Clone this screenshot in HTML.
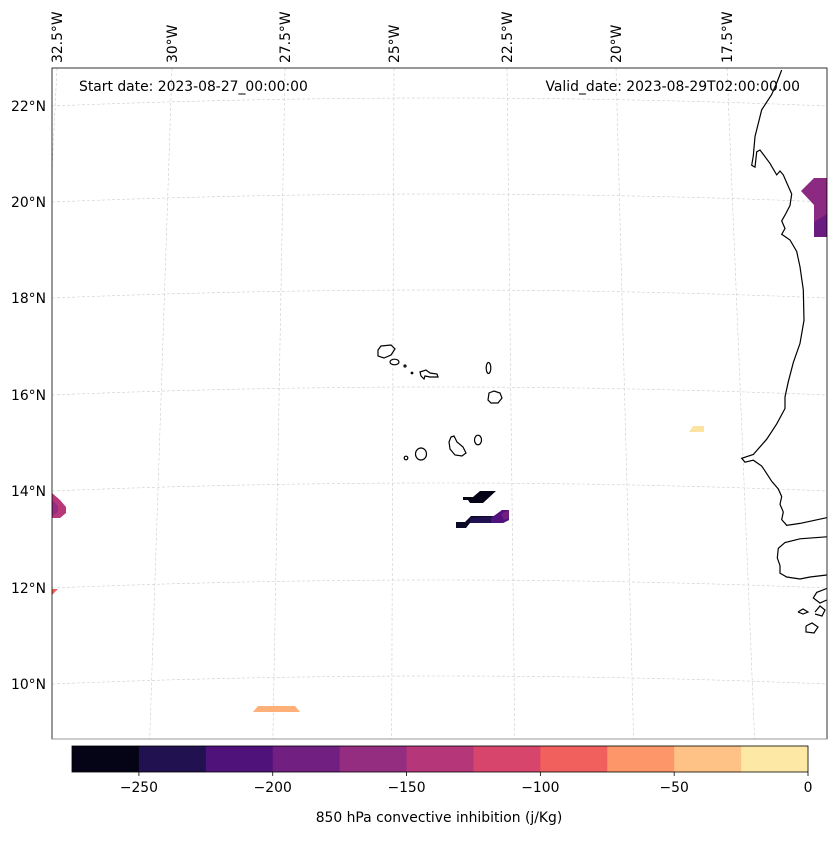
<!DOCTYPE html>
<html><head><meta charset="utf-8">
<style>
body{margin:0;background:#fff;font-family:"Liberation Sans","DejaVu Sans",sans-serif;}
svg text{font-family:"DejaVu Sans","Liberation Sans",sans-serif;font-size:13.9px;fill:#000;}
</style></head>
<body>
<svg id="chart" width="837" height="836" viewBox="0 0 837 836" xmlns="http://www.w3.org/2000/svg">
<defs><clipPath id="mapclip"><rect x="52" y="68" width="775" height="671"/></clipPath></defs>
<rect x="0" y="0" width="837" height="836" fill="#fff"/>
<g id="grid" clip-path="url(#mapclip)"></g>
<g id="fills" clip-path="url(#mapclip)">
  <polygon points="52,493 60,500 66,507 66,513 60,518 52,518" fill="#b73779"/>
  <polygon points="52,500 58,506 58,512 52,516" fill="#942c80"/>
  <polygon points="52,589 58,589 52,595" fill="#f1605d"/>
  <polygon points="253,712 258,706 295,706 300,712" fill="#feb078"/>
  <polygon points="689,432 693,426 704,426 704,432" fill="#fde3a1"/>
  <polygon points="801,191 814,178 827,178 827,237 814,237 814,205" fill="#8c2981"/>
  <polygon points="814,222 827,214 827,237 814,237" fill="#6a1b80"/>
  <polygon points="463,497 473,497 480,491 496,491 483,503 470,503 468,500 463,500" fill="#050416"/>
  <polygon points="456,522 465,522 471,516 496,516 502,510 509,510 509,520 503,523 470,523 466,528 456,528" fill="#0b0a26"/>
  <polygon points="470,518 497,516 496,523 470,523" fill="#221150"/>
  <polygon points="491,518 502,510 509,510 509,520 503,523 491,523" fill="#51127c"/>
  <polygon points="501,514 509,510 509,518 504,520" fill="#711f81"/>
</g>
<g id="coast" clip-path="url(#mapclip)" fill="none" stroke="#000" stroke-width="1.2">
  <polyline points="781.7,70 776.7,83 771.7,94.5 761.7,109.8 755,136.6 753.3,155.8 751.7,165.3 755,167.2 756.7,151.9 760,150 770,163.4 776.7,174.9 780,171 783.3,174.9 788.3,186.4 791.7,194 790,205.5 785,215.1 781.7,220.9 785,228.5 781.7,234.3 790,240 796.7,251.5 800,266.8 803.3,289.8 804,320.4 800,343.4 793.3,362.6 788.3,381.7 785,397 785,408.5 776.7,423.9 766.7,439.2 753.3,454.5 741.7,458.3 745,462.2 753.3,460.2 761.7,466 766.7,473.6 771.7,481.3 778.3,489 781.7,496.6 780,504.3 783.3,512 781.7,519.6 786.7,525.3 800,523.4 826.7,517.7"/>
  <polyline points="826.7,536.8 800,538.8 785,542.6 778.3,548.3 777.3,557.9 780,565.6 780,573.2 786.7,577 800,579 810,577 826.7,575"/>
  <polyline points="826.7,588.5 816.7,592.4 813.3,598 820,603 826.7,600"/>
  <polyline points="798,612 803,609 808,612 803,614 798,612"/>
  <polyline points="806,626 812,623 818,627 814,633 806,632 806,626"/>
  <polyline points="815,612 820,606 825,610 822,616 815,614"/>
  <path d="M378,350 L381,346 L391,345 L395,349 L391,355 L384,358 L378,356 Z"/>
  <ellipse cx="394.5" cy="362" rx="4.5" ry="2.8"/>
  <circle cx="405" cy="366" r="1"/>
  <circle cx="412" cy="373" r="0.8"/>
  <path d="M420,372 L426,370 L430,373 L437,374 L438,377 L430,377 L425,376 L424,379 L421,376 Z"/>
  <ellipse cx="488.5" cy="368" rx="2.3" ry="5.5"/>
  <path d="M489,393 L494,391 L500,393 L502,398 L498,403 L491,403 L488,400 Z"/>
  <ellipse cx="478" cy="440" rx="3.5" ry="4.8"/>
  <path d="M451,437 L454,436 L457,442 L463,447 L466,453 L462,456 L455,455 L450,449 L449,442 Z"/>
  <ellipse cx="421" cy="454" rx="5.5" ry="6"/>
  <circle cx="406" cy="458" r="1.8"/>
</g>
<rect x="52" y="68" width="775" height="671" fill="none" stroke="#000" stroke-width="0.8"/>
<line x1="52" y1="739" x2="827" y2="739" stroke="#999" stroke-width="1"/>
<g id="latlabels"></g>
<g id="lonlabels"></g>
<text x="79" y="91">Start date: 2023-08-27_00:00:00</text>
<text x="800" y="91" text-anchor="end">Valid_date: 2023-08-29T02:00:00.00</text>
<g id="cbar"></g>
<text x="439" y="822" text-anchor="middle">850 hPa convective inhibition (j/Kg)</text>
</svg>
<script>
const latTicks=[22,20,18,16,14,12,10];
const latLabelY=[106,202,298,395,491,588,684];
const lonTicks=["32.5°W","30°W","27.5°W","25°W","22.5°W","20°W","17.5°W"];
const lonTopX=[57,172,285,394,507,616,727];
const cbarLevels=[-275,-250,-225,-200,-175,-150,-125,-100,-75,-50,-25,0];
const cbarColors=["#050416","#221150","#4f127b","#711f81","#942c80","#b63779","#d8456c","#f1605d","#fd9668","#fec287","#fde8a6"];
const cbarTickValues=[-250,-200,-150,-100,-50,0];
const NS="http://www.w3.org/2000/svg";
function mk(tag,attrs,parent){const e=document.createElementNS(NS,tag);for(const k in attrs)e.setAttribute(k,attrs[k]);parent.appendChild(e);return e;}
const grid=document.getElementById('grid');
latLabelY.forEach((y,i)=>{
  const p=mk('path',{d:`M52,${y} Q440,${y-16} 827,${y}`,fill:'none',stroke:'#ccc','stroke-width':0.6,'stroke-dasharray':'3,2'},grid);
  
  
  const t=mk('text',{x:46,y:y+5,'text-anchor':'end'},document.getElementById('latlabels'));
  t.textContent=latTicks[i]+'°N';
  
  
});
lonTopX.forEach((x,i)=>{
  const xb=x+(x-420)*0.09;
  const l=mk('line',{x1:x,y1:68,x2:xb,y2:739,stroke:'#ccc','stroke-width':0.6,'stroke-dasharray':'3,2'},grid);
  
  
  const t=mk('text',{x:0,y:0,'text-anchor':'start',transform:`translate(${x+5},63) rotate(-90)`},document.getElementById('lonlabels'));
  t.textContent=lonTicks[i];
  
  
});
const cb=document.getElementById('cbar');
const cx0=72,cx1=808,cy=746,ch=26;
const vmin=cbarLevels[0],vmax=cbarLevels[cbarLevels.length-1];
const sx=v=>cx0+(v-vmin)/(vmax-vmin)*(cx1-cx0);
cbarColors.forEach((c,i)=>{
  const r=mk('rect',{x:sx(cbarLevels[i]),y:cy,width:sx(cbarLevels[i+1])-sx(cbarLevels[i])+0.5,height:ch,fill:c},cb);
  
  
});
const fr=mk('rect',{x:cx0,y:cy,width:cx1-cx0,height:ch,fill:'none',stroke:'#000','stroke-width':0.8},cb);


cbarTickValues.forEach(v=>{
  const x=sx(v);
  const l=mk('line',{x1:x,y1:cy+ch,x2:x,y2:cy+ch+4,stroke:'#000','stroke-width':0.8},cb);
  
  
  const t=mk('text',{x:x,y:cy+ch+20,'text-anchor':'middle'},cb);
  t.textContent=v<0?'\u2212'+Math.abs(v):String(v);
  
  
});
</script>
</body></html>
